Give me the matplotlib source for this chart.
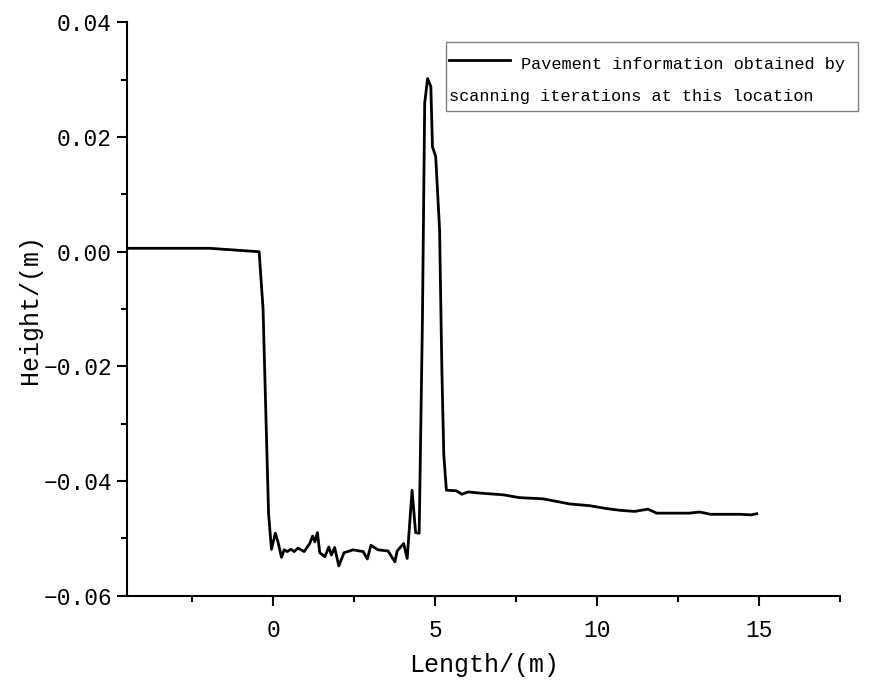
import matplotlib
matplotlib.use("Agg")
import matplotlib.pyplot as plt
from matplotlib.lines import Line2D
from matplotlib.patches import Rectangle
from matplotlib.ticker import MultipleLocator, FuncFormatter

plt.rcParams['font.family'] = ['Liberation Mono', 'DejaVu Sans']

length = [-4.5, -1.97, -0.43, -0.31, -0.14, -0.05, 0.07, 0.15, 0.26, 0.34, 0.44, 0.55,
          0.65, 0.77, 0.96, 1.13, 1.22, 1.29, 1.37, 1.44, 1.60, 1.72, 1.80, 1.90,
          2.03, 2.19, 2.47, 2.78, 2.91, 3.02, 3.24, 3.55, 3.76, 3.83, 4.03, 4.14,
          4.29, 4.40, 4.51, 4.61, 4.68, 4.77, 4.87, 4.92, 5.02, 5.14, 5.21, 5.27,
          5.35, 5.66, 5.83, 6.02, 6.38, 7.10, 7.61, 8.33, 9.16, 9.77, 10.29, 10.70,
          11.16, 11.57, 11.84, 12.86, 13.17, 13.50, 14.40, 14.77, 14.93]
height = [0.0006, 0.0006, 0.0000, -0.0099, -0.0456, -0.0519, -0.0491, -0.0506, -0.0533,
          -0.0520, -0.0523, -0.0519, -0.0523, -0.0517, -0.0523, -0.0509, -0.0496,
          -0.0506, -0.0490, -0.0525, -0.0532, -0.0515, -0.0529, -0.0516, -0.0548,
          -0.0525, -0.0520, -0.0523, -0.0536, -0.0512, -0.0520, -0.0522, -0.0541,
          -0.0522, -0.0509, -0.0535, -0.0416, -0.0490, -0.0491, -0.0119, 0.0259,
          0.0302, 0.0288, 0.0183, 0.0166, 0.0038, -0.0206, -0.0355, -0.0416, -0.0417,
          -0.0423, -0.0419, -0.0421, -0.0424, -0.0429, -0.0431, -0.0440, -0.0443,
          -0.0448, -0.0451, -0.0453, -0.0449, -0.0456, -0.0456, -0.0454, -0.0458,
          -0.0458, -0.0459, -0.0457]

legend_line1 = "Pavement information obtained by"
legend_line2 = "scanning iterations at this location"

W, H = 871, 684
fig = plt.figure(figsize=(W / 100, H / 100), dpi=100)
ax = fig.add_axes([127.3 / W, 1 - 595.7 / H, (840 - 127.3) / W, (595.7 - 22.4) / H])

ax.plot(length, height, color='black', lw=2.0)

ax.set_xlim(-4.5, 17.5)
ax.set_ylim(-0.06, 0.04)
ax.xaxis.set_major_locator(MultipleLocator(5))
ax.xaxis.set_minor_locator(MultipleLocator(2.5))
ax.yaxis.set_major_locator(MultipleLocator(0.02))
ax.yaxis.set_minor_locator(MultipleLocator(0.01))
ax.yaxis.set_major_formatter(FuncFormatter(lambda v, p: f"{v:.2f}".replace('-', '\u2212')))
ax.xaxis.set_major_formatter(FuncFormatter(lambda v, p: f"{v:.0f}"))

for s in ['top', 'right']:
    ax.spines[s].set_visible(False)
for s in ['left', 'bottom']:
    ax.spines[s].set_linewidth(1.5)

ax.tick_params(which='major', direction='out', length=7, width=1.5, labelsize=16.5, pad=4)
ax.tick_params(axis='x', which='major', pad=10)
ax.tick_params(which='minor', direction='out', length=4.5, width=1.5)

ax.set_xlabel("Length/(m)", fontsize=18, labelpad=8)
ax.set_ylabel("Height/(m)", fontsize=18, labelpad=1)

# legend box (extends past the axes on the right, as in the original)
fig.patches.append(Rectangle((446 / W, 1 - 111 / H), (858 - 446) / W, (111 - 42) / H,
                             transform=fig.transFigure, fill=False,
                             edgecolor='#808080', lw=1.0))
fig.lines.append(Line2D([449 / W, 510 / W], [1 - 60 / H, 1 - 60 / H],
                        transform=fig.transFigure, color='black', lw=2.0))
fig.text(521 / W, 1 - 64 / H, legend_line1, fontsize=12.2, va='center', ha='left')
fig.text(449 / W, 1 - 97 / H, legend_line2, fontsize=12.2, va='center', ha='left')

fig.savefig("out.png", dpi=100)
